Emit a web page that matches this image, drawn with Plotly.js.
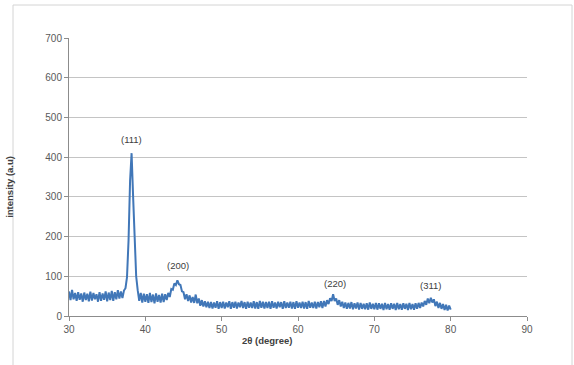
<!DOCTYPE html>
<html>
<head>
<meta charset="utf-8">
<script src="https://cdn.plot.ly/plotly-3.0.1.min.js"></script>
<style>html,body{margin:0;padding:0;background:#fff;}#chart{width:574px;height:365px;}</style>
</head>
<body>
<div id="chart"></div>
<script>
// 2θ start, step (degrees)
const xStart = 30.0;
const xStep = 0.2;
// intensity values (30.0 .. 80.0 step 0.2)
const intensity = [
62,40,66,42,58, 38,60,41,57,36, 59,40,56,37,61, 39,58,42,55,36,
60,38,57,41,62, 37,59,40,63,38, 60,42,65,44,62, 45,64,70,98,190,
340,410,300,175,100, 65,38,58,34,56, 36,55,33,58,35, 54,32,57,36,53,
34,56,35,55,40, 58,48,68,66,82, 78,90,80,78,62, 60,42,55,38,52,
34,48,33,54,32, 44,26,40,24,37, 22,36,20,35,19, 34,21,37,18,35,
20,36,19,34,22, 37,18,35,21,36, 19,34,22,38,20, 35,18,36,21,34,
20,37,19,35,18, 38,21,36,19,35, 20,36,18,37,21, 34,19,36,22,35,
18,37,20,34,21, 36,19,35,18,37, 21,34,20,36,19, 35,18,38,21,34,
20,36,19,35,22, 37,20,38,24,40, 30,45,38,55,38, 44,28,40,24,36,
20,34,18,33,19, 35,17,32,19,34, 16,33,18,31,17, 32,16,34,18,31,
17,33,16,32,18, 31,15,33,17,30, 16,32,18,31,15, 33,17,30,16,32,
18,31,15,33,17, 30,16,32,18,33, 20,34,24,38,28, 44,32,46,34,42,
25,36,20,33,18, 30,15,28,14,26, 16
];
const peakLabels = ["(111)", "(200)", "(220)", "(311)"];
const peakX = [38.2, 44.3, 64.8, 77.3];
const peakY = [445, 128, 83, 78];

const twoTheta = intensity.map((_, i) => +(xStart + i * xStep).toFixed(2));

const trace = {
  x: twoTheta, y: intensity, type: 'scatter', mode: 'lines',
  line: {color: '#4177b8', width: 2}, hoverinfo: 'skip'
};

const annotations = peakLabels.map((t, i) => ({
  x: peakX[i], y: peakY[i], xref: 'x', yref: 'y', text: t, showarrow: false,
  font: {family: 'Liberation Sans, Arial, sans-serif', size: 9.5, color: '#404040'}
}));
annotations.push({
  x: 56, y: -0.115, xref: 'x', yref: 'paper', text: '<b>2θ (degree)</b>', showarrow: false,
  font: {family: 'Liberation Sans, Arial, sans-serif', size: 9.5, color: '#404040'}
});
annotations.push({
  x: -0.145, y: 0.465, xref: 'paper', yref: 'paper', text: '<b>intensity (a.u)</b>', showarrow: false,
  textangle: -90,
  font: {family: 'Liberation Sans, Arial, sans-serif', size: 9.5, color: '#404040'}
});

const layout = {
  width: 574, height: 365,
  margin: {l: 69, r: 47, t: 38, b: 49, pad: 0},
  paper_bgcolor: '#ffffff', plot_bgcolor: '#ffffff',
  showlegend: false,
  font: {family: 'Liberation Sans, Arial, sans-serif', size: 10, color: '#595959'},
  xaxis: {
    range: [30, 90], tickmode: 'linear', tick0: 30, dtick: 10,
    showgrid: false, zeroline: false, showline: true, linecolor: '#8c8c8c', linewidth: 1,
    ticks: 'outside', ticklen: 4, tickcolor: '#8c8c8c',
    tickfont: {size: 10, color: '#595959'}, fixedrange: true
  },
  yaxis: {
    range: [0, 700], tickmode: 'linear', tick0: 0, dtick: 100,
    showgrid: true, gridcolor: '#c4c4c4', gridwidth: 1, zeroline: false,
    showline: true, linecolor: '#8c8c8c', linewidth: 1,
    ticks: 'outside', ticklen: 4, tickcolor: '#8c8c8c',
    tickfont: {size: 10, color: '#595959'}, fixedrange: true
  },
  annotations: annotations,
  shapes: [{
    type: 'rect', xref: 'paper', yref: 'paper',
    x0: (13 - 69) / 458, x1: (572 - 69) / 458,
    y0: (316 - 368) / 278, y1: (316 - 5) / 278,
    line: {color: '#d4d4d4', width: 1}, fillcolor: 'rgba(0,0,0,0)', layer: 'below'
  }]
};

Plotly.newPlot('chart', [trace], layout, {displayModeBar: false, staticPlot: true});
</script>
</body>
</html>
